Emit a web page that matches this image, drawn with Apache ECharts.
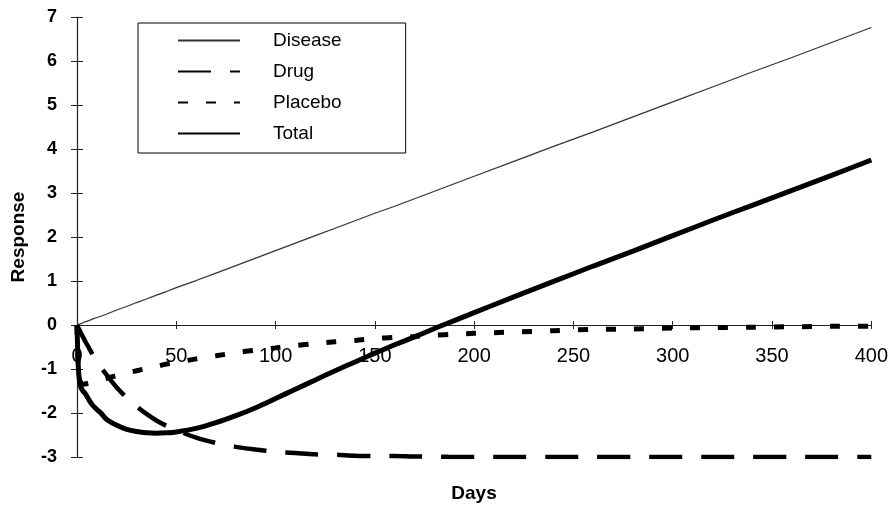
<!DOCTYPE html>
<html>
<head>
<meta charset="utf-8">
<script src="https://cdn.jsdelivr.net/npm/echarts@6/dist/echarts.min.js"></script>
<style>html,body{margin:0;padding:0;background:#fff}#c{width:891px;height:509px}</style>
</head>
<body>
<div id="c"></div>
<script>
const days = [0, 0.5, 1, 2, 3, 4, 6, 8, 10, 12, 15, 20, 25, 30, 35, 40, 45, 50, 60, 70, 80, 90, 100, 110, 120, 130, 140, 150, 160, 170, 180, 190, 200, 220, 240, 260, 280, 300, 320, 340, 360, 380, 400];
const disease = [0, 0.01, 0.02, 0.03, 0.05, 0.07, 0.10, 0.14, 0.17, 0.20, 0.25, 0.34, 0.42, 0.51, 0.59, 0.68, 0.76, 0.85, 1.01, 1.18, 1.35, 1.52, 1.69, 1.86, 2.03, 2.20, 2.37, 2.54, 2.70, 2.87, 3.04, 3.21, 3.38, 3.72, 4.06, 4.39, 4.73, 5.07, 5.41, 5.75, 6.08, 6.42, 6.76];
const drug = [0, -0.05, -0.09, -0.19, -0.27, -0.36, -0.52, -0.68, -0.82, -0.96, -1.14, -1.42, -1.65, -1.85, -2.02, -2.17, -2.29, -2.39, -2.56, -2.68, -2.77, -2.83, -2.88, -2.91, -2.94, -2.95, -2.97, -2.98, -2.98, -2.99, -2.99, -3.00, -3.00, -3.00, -3.00, -3.00, -3.00, -3.00, -3.00, -3.00, -3.00, -3.00, -3.00];
const placebo = [0, -0.76, -1.10, -1.31, -1.35, -1.34, -1.32, -1.29, -1.27, -1.24, -1.21, -1.15, -1.09, -1.04, -0.99, -0.94, -0.89, -0.85, -0.77, -0.70, -0.63, -0.57, -0.52, -0.47, -0.42, -0.38, -0.35, -0.31, -0.28, -0.26, -0.23, -0.21, -0.19, -0.16, -0.13, -0.10, -0.09, -0.07, -0.06, -0.05, -0.04, -0.03, -0.03];
const total = [0, -0.80, -1.17, -1.42, -1.50, -1.55, -1.70, -1.83, -1.92, -2.00, -2.15, -2.28, -2.37, -2.42, -2.45, -2.46, -2.45, -2.43, -2.35, -2.22, -2.06, -1.88, -1.67, -1.46, -1.25, -1.04, -0.84, -0.64, -0.45, -0.27, -0.08, 0.10, 0.28, 0.64, 0.99, 1.34, 1.68, 2.03, 2.38, 2.72, 3.06, 3.40, 3.75];
const seriesNames = ['Disease', 'Drug', 'Placebo', 'Total'];
const xTicks = [0, 50, 100, 150, 200, 250, 300, 350, 400];
const yTicks = [-3, -2, -1, 0, 1, 2, 3, 4, 5, 6, 7];

const pairs = arr => days.map((d, i) => [d, arr[i]]);
const FONT = '"Liberation Sans", Arial, sans-serif';

const W = 891, H = 509;
const G = {left: 77, right: 19, top: 17, bottom: 52};
const yMin = yTicks[0], yMax = yTicks[yTicks.length - 1];
// shift the x axis from the grid bottom up to the y = 0 level
const zeroOffset = -(H - G.top - G.bottom) * (0 - yMin) / (yMax - yMin);

const chart = echarts.init(document.getElementById('c'), null, {renderer: 'canvas'});
chart.setOption({
  backgroundColor: '#fff',
  animation: false,
  title: {
    text: 'Days', left: 474, top: 484, textAlign: 'center', padding: 0,
    textStyle: {fontFamily: FONT, fontSize: 19, fontWeight: 'bold', color: '#000'}
  },
  grid: Object.assign({containLabel: false}, G),
  legend: {
    orient: 'vertical', left: 138, top: 23,
    padding: [8, 64, 10, 39],
    itemWidth: 62, itemHeight: 14, itemGap: 12,
    borderColor: '#000', borderWidth: 1,
    data: seriesNames,
    itemStyle: {opacity: 0},
    textStyle: {fontFamily: FONT, fontSize: 19, color: '#000', padding: [0, 0, 0, 28]}
  },
  xAxis: [{
    type: 'value', min: xTicks[0], max: xTicks[xTicks.length - 1], interval: 50,
    position: 'bottom', offset: zeroOffset,
    axisLine: {show: true, onZero: false, lineStyle: {color: '#222', width: 1}},
    axisTick: {show: true, length: 4, inside: false, lineStyle: {color: '#222'}},
    axisLabel: {margin: 21, fontFamily: FONT, fontSize: 20, color: '#000', hideOverlap: false},
    splitLine: {show: false}
  }, {
    type: 'value', min: xTicks[0], max: xTicks[xTicks.length - 1], interval: 50,
    position: 'bottom', offset: zeroOffset,
    axisLine: {show: false, onZero: false},
    axisTick: {show: true, length: 4, inside: true, lineStyle: {color: '#222'}},
    axisLabel: {show: false}, splitLine: {show: false}
  }],
  yAxis: [{
    type: 'value', min: yMin, max: yMax, interval: 1,
    axisLine: {show: true, onZero: false, lineStyle: {color: '#222', width: 1.2}},
    axisTick: {show: true, length: 6, lineStyle: {color: '#222'}},
    axisLabel: {margin: 20, fontFamily: FONT, fontSize: 18, fontWeight: 'bold', color: '#000'},
    splitLine: {show: false},
    name: 'Response', nameLocation: 'middle', nameGap: 49, nameRotate: 90,
    nameTextStyle: {fontFamily: FONT, fontSize: 19, fontWeight: 'bold', color: '#000'}
  }, {
    type: 'value', min: yMin, max: yMax, interval: 1, position: 'left', offset: 0,
    axisLine: {show: false, onZero: false},
    axisTick: {show: true, length: 6, inside: true, lineStyle: {color: '#222'}},
    axisLabel: {show: false}, splitLine: {show: false}
  }],
  series: [{
    name: seriesNames[0], type: 'line', data: pairs(disease), symbol: 'none',
    lineStyle: {color: '#333', width: 1.2}, itemStyle: {color: '#333'}, z: 3
  }, {
    name: seriesNames[1], type: 'line', data: pairs(drug), symbol: 'none', smooth: 0.3,
    lineStyle: {color: '#000', width: 4.5, type: [33, 19]}, itemStyle: {color: '#000'}, z: 4
  }, {
    name: seriesNames[2], type: 'line', data: pairs(placebo), symbol: 'none', smooth: 0.3,
    lineStyle: {color: '#000', width: 5, type: [10, 18]}, itemStyle: {color: '#000'}, z: 4
  }, {
    name: seriesNames[3], type: 'line', data: pairs(total), symbol: 'none', smooth: 0.3,
    lineStyle: {color: '#000', width: 5}, itemStyle: {color: '#000'}, z: 5
  }]
});
</script>
</body>
</html>
